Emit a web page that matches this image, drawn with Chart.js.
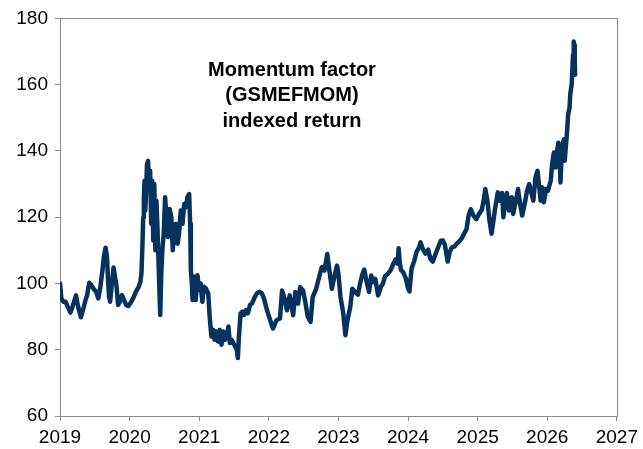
<!DOCTYPE html>
<html>
<head>
<meta charset="utf-8">
<script src="https://cdn.jsdelivr.net/npm/chart.js@4/dist/chart.umd.min.js"></script>
<style>
  html, body { margin: 0; padding: 0; background: #fff; }
  canvas { display: block; }
</style>
</head>
<body>
<canvas id="momChart" width="643" height="449"></canvas>
<script>
// Datos (fecha en fraccion de año, nivel del indice)
const fechas = [
  2019.00, 2019.02, 2019.05, 2019.08, 2019.11, 2019.15, 2019.18, 2019.21, 2019.23, 2019.26,
  2019.30, 2019.33, 2019.36, 2019.39, 2019.42, 2019.45, 2019.49, 2019.52, 2019.55, 2019.58,
  2019.61, 2019.63, 2019.655, 2019.675, 2019.69, 2019.705, 2019.72, 2019.745, 2019.77, 2019.79,
  2019.81, 2019.835, 2019.86, 2019.89, 2019.92, 2019.95, 2019.98, 2020.01, 2020.05, 2020.09,
  2020.13, 2020.155, 2020.17, 2020.185, 2020.195, 2020.205, 2020.215, 2020.225, 2020.24, 2020.25,
  2020.265, 2020.28, 2020.295, 2020.31, 2020.325, 2020.34, 2020.355, 2020.37, 2020.385, 2020.40,
  2020.425, 2020.44, 2020.455, 2020.47, 2020.49, 2020.51, 2020.53, 2020.55, 2020.575, 2020.60,
  2020.62, 2020.64, 2020.665, 2020.69, 2020.71, 2020.735, 2020.76, 2020.785, 2020.81, 2020.83,
  2020.855, 2020.87, 2020.88, 2020.895, 2020.905, 2020.93, 2020.95, 2020.975, 2021.00, 2021.02,
  2021.045, 2021.07, 2021.095, 2021.13, 2021.15, 2021.175, 2021.20, 2021.22, 2021.245, 2021.27,
  2021.295, 2021.32, 2021.345, 2021.37, 2021.395, 2021.42, 2021.44, 2021.465, 2021.49, 2021.515,
  2021.54, 2021.555, 2021.57, 2021.595, 2021.62, 2021.645, 2021.675, 2021.70, 2021.73, 2021.76,
  2021.80, 2021.83, 2021.865, 2021.90, 2021.93, 2021.96, 2021.98, 2022.02, 2022.06, 2022.11,
  2022.16, 2022.19, 2022.22, 2022.26, 2022.30, 2022.35, 2022.38, 2022.42, 2022.45, 2022.49,
  2022.52, 2022.56, 2022.60, 2022.63, 2022.68, 2022.71, 2022.76, 2022.80, 2022.84, 2022.87,
  2022.905, 2022.94, 2022.98, 2023.00, 2023.03, 2023.07, 2023.10, 2023.13, 2023.17, 2023.20,
  2023.24, 2023.28, 2023.31, 2023.34, 2023.37, 2023.40, 2023.44, 2023.47, 2023.50, 2023.53,
  2023.57, 2023.61, 2023.64, 2023.67, 2023.71, 2023.75, 2023.79, 2023.82, 2023.85, 2023.865,
  2023.88, 2023.90, 2023.93, 2023.965, 2024.00, 2024.02, 2024.05, 2024.09, 2024.12, 2024.16,
  2024.18, 2024.21, 2024.25, 2024.29, 2024.32, 2024.355, 2024.39, 2024.43, 2024.47, 2024.50,
  2024.53, 2024.57, 2024.60, 2024.63, 2024.67, 2024.70, 2024.74, 2024.77, 2024.80, 2024.84,
  2024.87, 2024.90, 2024.94, 2024.98, 2025.02, 2025.06, 2025.09, 2025.11, 2025.14, 2025.17,
  2025.20, 2025.22, 2025.25, 2025.29, 2025.32, 2025.35, 2025.37, 2025.395, 2025.42, 2025.45,
  2025.49, 2025.51, 2025.55, 2025.58, 2025.61, 2025.64, 2025.68, 2025.71, 2025.74, 2025.77,
  2025.80, 2025.83, 2025.86, 2025.88, 2025.905, 2025.93, 2025.95, 2025.985, 2026.01, 2026.05,
  2026.07, 2026.095, 2026.12, 2026.14, 2026.16, 2026.18, 2026.19, 2026.205, 2026.22, 2026.24,
  2026.25, 2026.27, 2026.285, 2026.30, 2026.32, 2026.33, 2026.35, 2026.36, 2026.37, 2026.38,
  2026.385, 2026.395, 2026.40
];

const valores = [
  100, 95.5, 94.5, 94.5, 93, 91.2, 93, 95, 96.4, 93,
  89.8, 92, 94.5, 96.5, 100.2, 99.5, 98.2, 97.5, 95.5, 99,
  104, 108, 110.8, 108, 101, 96, 94.5, 100, 104.8, 102,
  99.5, 93.5, 94.5, 96.5, 95, 93.5, 93.2, 94, 95.5, 97.5,
  99, 100.5, 103, 112, 119.8, 126, 131, 122, 130, 136,
  137, 129, 134, 118, 131, 113, 130, 110, 125, 117,
  100, 90.5, 103, 110, 115, 126, 120, 114, 122.5, 120,
  110, 116, 118, 112, 115, 122, 118, 124, 123, 126,
  127, 118, 104, 100, 95, 102, 95, 102.5, 98, 100,
  94.5, 99, 98.5, 97, 90, 84, 86, 83, 85.5, 82.5,
  86, 81.5, 85.5, 83, 84, 87, 82, 83, 82, 81,
  80, 77.5, 84, 91, 91.5, 90.5, 92, 91, 93.5, 94,
  96, 97, 97.5, 97, 95.5, 93, 91.5, 88.9, 86.4, 88.9,
  89.4, 97.9, 95.9, 91.9, 96.4, 90.4, 97.4, 93.9, 98.9, 97.9,
  94.9, 89.9, 88.4, 95.9, 98.4, 100.9, 104.9, 103.9, 108.9, 103.9,
  98.4, 101.9, 105.4, 102.9, 95.9, 90.9, 84.4, 88.9, 92.9, 98.4,
  97.4, 96.6, 99.9, 102.5, 104.2, 101, 97.4, 102.4, 100.4, 101.4,
  96.4, 99, 100, 102.2, 102.9, 104, 106, 107.2, 106, 110.6,
  106.5, 104, 103.4, 101.7, 98.6, 97.6, 104.4, 106.9, 109.4, 111,
  112.4, 110.5, 109, 110.2, 107.5, 106.6, 108.6, 110.8, 112.9, 113,
  111.6, 106.6, 109.6, 110.9, 111.2, 112, 112.8, 113.6, 114.8, 116.4,
  120.5, 122.4, 120.5, 119.4, 121, 122.2, 125.5, 128.5, 125, 119,
  115, 118, 122.5, 127.5, 125, 127.3, 120, 124.5, 127.3, 122,
  126, 121, 125, 128.5, 124, 120.5, 124.5, 128, 130, 127.5,
  125, 132, 134, 130, 125, 129, 124.5, 128.5, 128, 131,
  136, 139.5, 135, 140, 142.5, 137, 130.5, 138, 142, 143.5,
  137, 142, 146, 151, 153, 157, 160, 164, 169, 173,
  172, 167, 163
];

// Texto del titulo dentro del area del grafico
const tituloLineas = ["Momentum factor", "(GSMEFMOM)", "indexed return"];

const ejeX = { min: 2019, max: 2027, paso: 1 };
const ejeY = { min: 60, max: 180, paso: 20 };

const puntos = fechas.map((f, i) => ({ x: f, y: valores[i] }));

const colorLinea = '#08325e';
const colorEje = '#8c8c8c';
const fuente = "'Liberation Sans', Arial, sans-serif";

// caja gris alrededor del area y texto del titulo
const cajaYTitulo = {
  id: 'cajaYTitulo',
  beforeDatasetsDraw(chart) {
    const a = chart.chartArea;
    const c = chart.ctx;
    c.save();
    c.strokeStyle = colorEje;
    c.lineWidth = 1;
    c.strokeRect(Math.round(a.left) + 0.5, Math.round(a.top) + 0.5,
      Math.round(a.right - a.left), Math.round(a.bottom - a.top));
    c.restore();
  },
  afterDraw(chart) {
    const c = chart.ctx;
    c.save();
    c.font = "bold 20px " + fuente;
    c.fillStyle = '#000';
    c.textAlign = 'center';
    c.textBaseline = 'middle';
    tituloLineas.forEach((t, i) => {
      c.fillText(t, 292, 70 + i * 25.5);
    });
    c.restore();
  }
};

const ctx = document.getElementById('momChart').getContext('2d');

new Chart(ctx, {
  type: 'line',
  data: {
    datasets: [{
      data: puntos,
      borderColor: colorLinea,
      borderWidth: 4.5,
      pointRadius: 0,
      tension: 0,
      borderJoinStyle: 'round',
      borderCapStyle: 'round'
    }]
  },
  options: {
    responsive: false,
    animation: false,
    devicePixelRatio: 1,
    layout: { padding: { top: 17, right: 22, bottom: 0, left: 0 } },
    plugins: {
      legend: { display: false },
      tooltip: { enabled: false }
    },
    scales: {
      x: {
        type: 'linear',
        min: ejeX.min,
        max: ejeX.max,
        afterFit: s => { s.height = 33; },
        ticks: {
          stepSize: ejeX.paso,
          color: '#000',
          padding: 5,
          maxRotation: 0,
          font: { family: fuente, size: 19 },
          callback: v => String(v)
        },
        grid: { drawOnChartArea: false, tickLength: 5, color: colorEje },
        border: { color: colorEje }
      },
      y: {
        min: ejeY.min,
        max: ejeY.max,
        afterFit: s => { s.width = 60; },
        ticks: {
          stepSize: ejeY.paso,
          color: '#000',
          padding: 7,
          font: { family: fuente, size: 19 }
        },
        grid: { drawOnChartArea: false, tickLength: 5, color: colorEje },
        border: { color: colorEje }
      }
    }
  },
  plugins: [cajaYTitulo]
});
</script>
</body>
</html>
